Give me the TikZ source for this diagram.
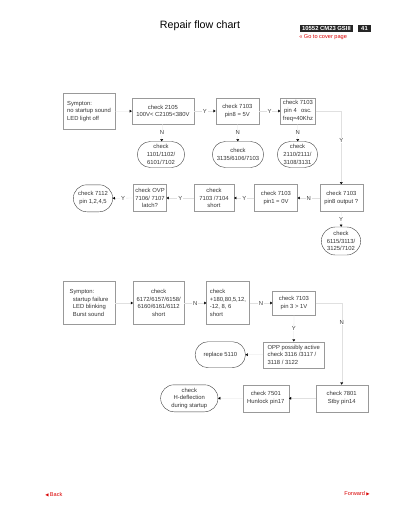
\documentclass[tikz,border=0pt]{standalone}
\usepackage{fontspec}
\setmainfont{Liberation Sans}
\usetikzlibrary{arrows.meta,shapes.misc}
\begin{document}
\begin{tikzpicture}[x=0.75pt,y=-0.75pt,
  every node/.style={font=\fontsize{4.4}{5.8}\selectfont,text=black!80},
  box/.style={draw=black!40,line width=0.3pt,minimum width=#1,inner sep=1pt,align=center},
  lbox/.style={draw=black!40,line width=0.3pt,minimum width=#1,inner sep=1.5pt,align=left},
  rnd/.style={draw=black!75,line width=0.3pt,rounded rectangle,minimum width=#1,inner sep=1pt,align=center},
  lab/.style={fill=white,inner sep=0.6pt,text=black!75},
  conn/.style={draw=black!12,line width=0.2pt,-{Triangle[length=1.6pt,width=2pt,color=black]}},
  redtxt/.style={text=red!85!black,font=\fontsize{4.2}{5}\selectfont}]
\useasboundingbox (0,0) rectangle (400,518);

% header
\node[text=black] (title) at (200,26) {\fontsize{8}{9}\selectfont Repair flow chart};
\node[fill=black!85,text=white,font=\bfseries\fontsize{4.4}{5}\selectfont,minimum width=53*0.75pt,minimum height=7*0.75pt,inner sep=0pt] (model) at (326.5,28) {10552 CM23 GSIII};
\node[fill=black!85,text=white,font=\bfseries\fontsize{4.4}{5}\selectfont,minimum width=13*0.75pt,minimum height=7*0.75pt,inner sep=0pt] (page) at (364.5,28) {41};
\node[redtxt,anchor=west,inner sep=0pt] (cover) at (299,37) {<< Go to cover page};

% row 1
\node[lbox=52*0.75pt,minimum height=36*0.75pt] (sym1) at (89,111.3) {Sympton:\\ no startup sound\\LED light off};
\node[box=62*0.75pt,minimum height=26*0.75pt] (c2105) at (163,111) {check 2105\\100V< C2105<380V};
\node[box=43*0.75pt,minimum height=26*0.75pt] (c7103a) at (237.3,111) {check 7103\\pin8 = 5V};
\node[box=35*0.75pt,minimum height=26*0.75pt,inner sep=0.5pt] (c7103b) at (298,111) {check 7103\\pin 4\ \ \,osc.\\freq=40Khz};
\node[rnd=50*0.75pt,minimum height=26*0.75pt] (r1101) at (161,154.5) {check\\1101/1102/\\6101/7102};
\node[rnd=54*0.75pt,minimum height=26*0.75pt] (r3135) at (238,154.5) {check\\3135/6106/7103};
\node[rnd=43*0.75pt,minimum height=26*0.75pt] (r2110) at (297.5,154.5) {check\\2110/2111/\\3108/3131};

% row 2
\node[rnd=42*0.75pt,minimum height=27*0.75pt] (r7112) at (93,198.3) {check 7112\\pin 1,2,4,5};
\node[box=33*0.75pt,minimum height=27*0.75pt] (ovp) at (150,198) {check OVP\\7106/ 7107\\latch?};
\node[box=40*0.75pt,minimum height=27*0.75pt] (s7104) at (214,198) {check\\7103 /7104\\short};
\node[box=43*0.75pt,minimum height=27*0.75pt] (pin1) at (276,198) {check 7103\\pin1 = 0V};
\node[box=43*0.75pt,minimum height=27*0.75pt] (pin8) at (341.3,198) {check 7103\\pin8 output ?};
\node[rnd=42*0.75pt,minimum height=28*0.75pt] (r6115) at (341,241) {check\\6115/3113/\\3125/7102};

% row 3
\node[lbox=52*0.75pt,minimum height=43*0.75pt] (sym2) at (89,303) {Sympton:\\\ \ startup failure\\\ \ LED blinking\\\ \ Burst sound};
\node[box=51*0.75pt,minimum height=43*0.75pt] (c6172) at (158.7,303) {check\\6172/6157/6158/\\6160/6161/6112\\short};
\node[lbox=43*0.75pt,minimum height=43*0.75pt,inner sep=0.5pt] (c180) at (228,303) {check\\+180,80,5,12,\\-12, 8, 6\\short};
\node[box=43*0.75pt,minimum height=24*0.75pt] (pin3) at (294,303) {check 7103\\pin 3 > 1V};
\node[lbox=61*0.75pt,minimum height=26*0.75pt] (opp) at (293.7,354.7) {OPP possibly active\\check 3116 /3117 /\\3118 / 3122};
\node[rnd=53*0.75pt,minimum height=26*0.75pt] (rep) at (220.3,354.7) {replace 5110};
\node[rnd=60*0.75pt,minimum height=27*0.75pt] (hdef) at (189.3,398.3) {check\\H-deflection\\during startup};
\node[box=46*0.75pt,minimum height=27*0.75pt] (c7501) at (265.8,398.3) {check 7501\\Hunlock pin17};
\node[box=52*0.75pt,minimum height=27*0.75pt] (c7801) at (341.7,398.3) {check 7801\\Stby pin14};

% connectors row 1
\draw[conn] (sym1) -- (c2105);
\draw[conn] (c2105) -- node[lab] {Y} (c7103a);
\draw[conn] (c7103a) -- node[lab] {Y} (c7103b);
\draw[conn] (c2105) -- node[lab] {N} (r1101);
\draw[conn] (c7103a) -- node[lab] {N} (r3135);
\draw[conn] (c7103b) -- node[lab] {N} (r2110);
\draw[conn] (c7103b.east) -| node[lab,pos=0.7] {Y} (pin8.north);
% row 2
\draw[conn] (pin8) -- node[lab] {N} (pin1);
\draw[conn] (pin1) -- node[lab] {Y} (s7104);
\draw[conn] (s7104) -- node[lab] {Y} (ovp);
\draw[conn] (ovp) -- node[lab] {Y} (r7112);
\draw[conn] (pin8) -- node[lab] {Y} (r6115);
% row 3
\draw[conn] (sym2) -- (c6172);
\draw[conn] (c6172) -- node[lab] {N} (c180);
\draw[conn] (c180) -- node[lab] {N} (pin3);
\draw[conn] (pin3) -- node[lab] {Y} (opp);
\draw[conn] (opp) -- (rep);
\draw[conn] (pin3.east) -| node[lab,pos=0.62] {N} (c7801.north);
\draw[conn] (c7801) -- (c7501);
\draw[conn] (c7501) -- (hdef);

% footer
\node[redtxt,anchor=west,inner sep=0pt] (back) at (45,495) {\fontspec{DejaVu Sans}\fontsize{3.2}{4}\selectfont ◀\ \fontspec{Liberation Sans}\fontsize{4.2}{5}\selectfont Back};
\node[redtxt,anchor=east,inner sep=0pt] (fwd) at (370,494) {Forward\ \fontspec{DejaVu Sans}\fontsize{3.2}{4}\selectfont ▶};
\end{tikzpicture}
\end{document}
